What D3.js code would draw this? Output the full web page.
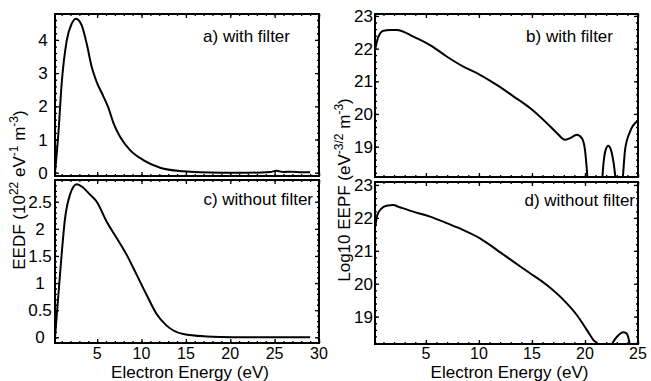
<!DOCTYPE html>
<html>
<head>
<meta charset="utf-8">
<script src="https://cdn.jsdelivr.net/npm/d3@7"></script>
<style>
  body { margin: 0; background: #fff; }
  svg text { font-family: "Liberation Sans", Arial, sans-serif; fill: #000; }
</style>
</head>
<body>
<div id="chart"></div>
<script>
// Data
// a) EEDF with filter
const energyA = [0.25, 0.63, 1.0, 1.57, 2.13, 2.62, 3.26, 3.82, 4.39, 4.95, 5.7, 6.27, 6.83, 7.58, 8.71, 10.2, 12.1, 14.7, 16.6, 19, 22, 24.5, 25.2, 26, 27, 28, 29]
const eedfA = [0, 1.18, 2.68, 3.98, 4.49, 4.64, 4.44, 3.89, 3.18, 2.73, 2.3, 1.95, 1.5, 1.08, 0.68, 0.38, 0.15, 0.04, 0.01, 0.0, 0.0, 0.02, 0.06, 0.02, 0.03, 0.01, 0.01]
// c) EEDF without filter
const energyC = [0.25, 0.81, 1.38, 1.94, 2.7, 3.26, 4.2, 4.95, 6.08, 7.2, 8.33, 9.46, 10.58, 11.7, 12.8, 14.7, 17.3, 20.3, 25, 29]
const eedfC = [0, 1.15, 2.19, 2.63, 2.82, 2.78, 2.63, 2.5, 2.13, 1.83, 1.52, 1.15, 0.78, 0.43, 0.22, 0.06, 0.015, 0.0, 0.0, 0.0]
// b) Log10 EEPF with filter
const energyB = [0.2, 0.52, 0.99, 1.62, 2.25, 3.81, 5.39, 6.96, 8.53, 10.1, 11.68, 13.25, 14.82, 16.4, 17.34, 18.12, 18.6, 19.23, 19.7, 20.0, 20.15, 20.3, 21.0, 21.6, 21.75, 21.95, 22.2, 22.45, 22.7, 22.9, 23.2, 23.55, 23.78, 24.25, 25.0]
const eepfB = [21.96, 22.37, 22.55, 22.57, 22.57, 22.37, 22.11, 21.76, 21.45, 21.2, 20.89, 20.54, 20.18, 19.72, 19.42, 19.21, 19.26, 19.36, 19.26, 18.9, 18.4, 17.8, 17.0, 17.9, 18.5, 18.9, 19.03, 18.9, 18.5, 18.0, 17.5, 18.0, 18.9, 19.46, 19.8]
// d) Log10 EEPF without filter
const energyD = [0.2, 0.42, 0.83, 1.3, 1.93, 2.4, 3.81, 5.39, 6.96, 8.53, 10.1, 11.68, 13.25, 14.82, 16.4, 17.97, 19.23, 20.17, 20.8, 21.27, 21.5, 22.0, 22.4, 22.7, 23.1, 23.6, 23.9, 24.1, 24.25, 24.35]
const eepfD = [21.68, 22.09, 22.29, 22.37, 22.39, 22.34, 22.19, 22.04, 21.84, 21.63, 21.38, 21.03, 20.67, 20.32, 19.96, 19.51, 19.05, 18.6, 18.29, 18.14, 17.8, 17.5, 18.05, 18.25, 18.42, 18.53, 18.5, 18.35, 18.1, 17.8]

// Tick labels
const xTicksLeft = [5, 10, 15, 20, 25, 30]
const xTicksRight = [5, 10, 15, 20, 25]
const yTicksA = [0, 1, 2, 3, 4]
const yTicksC = [0, 0.5, 1, 1.5, 2, 2.5]
const yTicksLog = [19, 20, 21, 22, 23]

const panelLabels = ["a) with filter", "b) with filter", "c) without filter", "d) without filter"]

//Draw Canvas
const svg = d3.select("#chart")
    .append("svg")
        .attr("width", 651)
        .attr("height", 381)

const panels = [
    { id: "a", x: energyA, y: eedfA, xDomain: [0.25, 30], yDomain: [-0.1, 4.78],
      xRange: [55, 319], yRange: [176, 14], xTicks: xTicksLeft, yTicks: yTicksA,
      yMinor: 0.2, label: panelLabels[0], labelPos: [290, 42], showX: false,
      yLabelX: 43, yAnchor: "middle" },
    { id: "c", x: energyC, y: eedfC, xDomain: [0.25, 30], yDomain: [-0.105, 2.9],
      xRange: [55, 319], yRange: [343, 180], xTicks: xTicksLeft, yTicks: yTicksC,
      yMinor: 0.1, label: panelLabels[2], labelPos: [313, 205], showX: true,
      yLabelX: 40, yAnchor: "middle" },
    { id: "b", x: energyB, y: eepfB, xDomain: [0.2, 25], yDomain: [18.07, 23.06],
      xRange: [375, 638], yRange: [177, 14], xTicks: xTicksRight, yTicks: yTicksLog,
      yMinor: 0.2, label: panelLabels[1], labelPos: [613, 42], showX: false,
      yLabelX: 373, yAnchor: "end" },
    { id: "d", x: energyD, y: eepfD, xDomain: [0.2, 25], yDomain: [18.17, 23.09],
      xRange: [375, 638], yRange: [344, 182], xTicks: xTicksRight, yTicks: yTicksLog,
      yMinor: 0.2, label: panelLabels[3], labelPos: [635, 206], showX: true,
      yLabelX: 373, yAnchor: "end" },
]

panels.forEach(p => {
    const xScale = d3.scaleLinear().domain(p.xDomain).range(p.xRange)
    const yScale = d3.scaleLinear().domain(p.yDomain).range(p.yRange)
    const [x0, x1] = p.xRange
    const [y1, y0] = p.yRange

    const g = svg.append("g")

    // clip so curves dropping below the axis disappear
    svg.append("clipPath")
        .attr("id", "clip-" + p.id)
        .append("rect")
            .attr("x", x0).attr("y", y0)
            .attr("width", x1 - x0).attr("height", y1 - y0)

    // minor + major ticks, inward on all four sides
    const minorX = d3.range(Math.ceil(p.xDomain[0]), p.xDomain[1] + 0.001, 1)
    const minorY = d3.range(Math.ceil(p.yDomain[0] / p.yMinor) * p.yMinor, p.yDomain[1], p.yMinor)

    const axes = [
        [d3.axisBottom(xScale).tickValues(minorX).tickSize(-2), `translate(0,${y1})`],
        [d3.axisTop(xScale).tickValues(minorX).tickSize(-2), `translate(0,${y0})`],
        [d3.axisBottom(xScale).tickValues(p.xTicks).tickSize(-4), `translate(0,${y1})`],
        [d3.axisTop(xScale).tickValues(p.xTicks).tickSize(-4), `translate(0,${y0})`],
        [d3.axisLeft(yScale).tickValues(minorY).tickSize(-2), `translate(${x0},0)`],
        [d3.axisRight(yScale).tickValues(minorY).tickSize(-2), `translate(${x1},0)`],
        [d3.axisLeft(yScale).tickValues(p.yTicks).tickSize(-4), `translate(${x0},0)`],
        [d3.axisRight(yScale).tickValues(p.yTicks).tickSize(-4), `translate(${x1},0)`],
    ]
    axes.forEach(([ax, tr]) => {
        const a = g.append("g")
            .attr("transform", tr)
            .call(ax.tickFormat(""))
        a.select(".domain").remove()
        a.selectAll("line").attr("stroke", "#000").attr("stroke-width", 1.3)
    })

    // frame
    g.append("rect")
        .attr("x", x0).attr("y", y0)
        .attr("width", x1 - x0).attr("height", y1 - y0)
        .attr("fill", "none")
        .attr("stroke", "#000")
        .attr("stroke-width", 2)

    // curve
    const lineGenerator = d3.line()
        .x(i => xScale(p.x[i]))
        .y(i => yScale(p.y[i]))
        .curve(d3.curveMonotoneX)

    g.append("path")
        .attr("clip-path", `url(#clip-${p.id})`)
        .attr("d", lineGenerator(d3.range(p.x.length)))
        .attr("fill", "none")
        .attr("stroke", "#000")
        .attr("stroke-width", 2)

    // y tick labels
    g.selectAll(".ylab")
        .data(p.yTicks)
        .enter()
        .append("text")
            .attr("x", p.yLabelX)
            .attr("y", d => yScale(d))
            .attr("dy", "0.36em")
            .attr("text-anchor", p.yAnchor)
            .style("font-size", "17px")
            .text(d => d)

    // x tick labels
    if (p.showX) {
        g.selectAll(".xlab")
            .data(p.xTicks)
            .enter()
            .append("text")
                .attr("x", d => xScale(d))
                .attr("y", 359)
                .attr("text-anchor", "middle")
                .style("font-size", "16px")
                .text(d => d)
        g.append("text")
            .attr("x", (x0 + x1) / 2 + 3)
            .attr("y", 378)
            .attr("text-anchor", "middle")
            .style("font-size", "17px")
            .text("Electron Energy (eV)")
    }

    // panel label
    g.append("text")
        .attr("x", p.labelPos[0])
        .attr("y", p.labelPos[1])
        .attr("text-anchor", "end")
        .style("font-size", "17px")
        .text(p.label)
})

// y titles with superscripts
function richTitle(x, y, parts) {
    const t = svg.append("text")
        .attr("transform", `translate(${x},${y}) rotate(-90)`)
        .attr("text-anchor", "middle")
        .style("font-size", "17px")
    let up = false
    parts.forEach(([s, sup]) => {
        const ts = t.append("tspan").text(s)
        if (sup && !up) { ts.attr("dy", -7).style("font-size", "12px"); up = true }
        else if (sup) { ts.style("font-size", "12px") }
        else if (up) { ts.attr("dy", 7); up = false }
    })
}

richTitle(25, 190, [["EEDF (10", 0], ["22", 1], [" eV", 0], ["-1", 1], [" m", 0], ["-3", 1], [")", 0]])
richTitle(350, 190, [["Log10 EEPF (eV", 0], ["-3/2", 1], [" m", 0], ["-3", 1], [")", 0]])
</script>
</body>
</html>
